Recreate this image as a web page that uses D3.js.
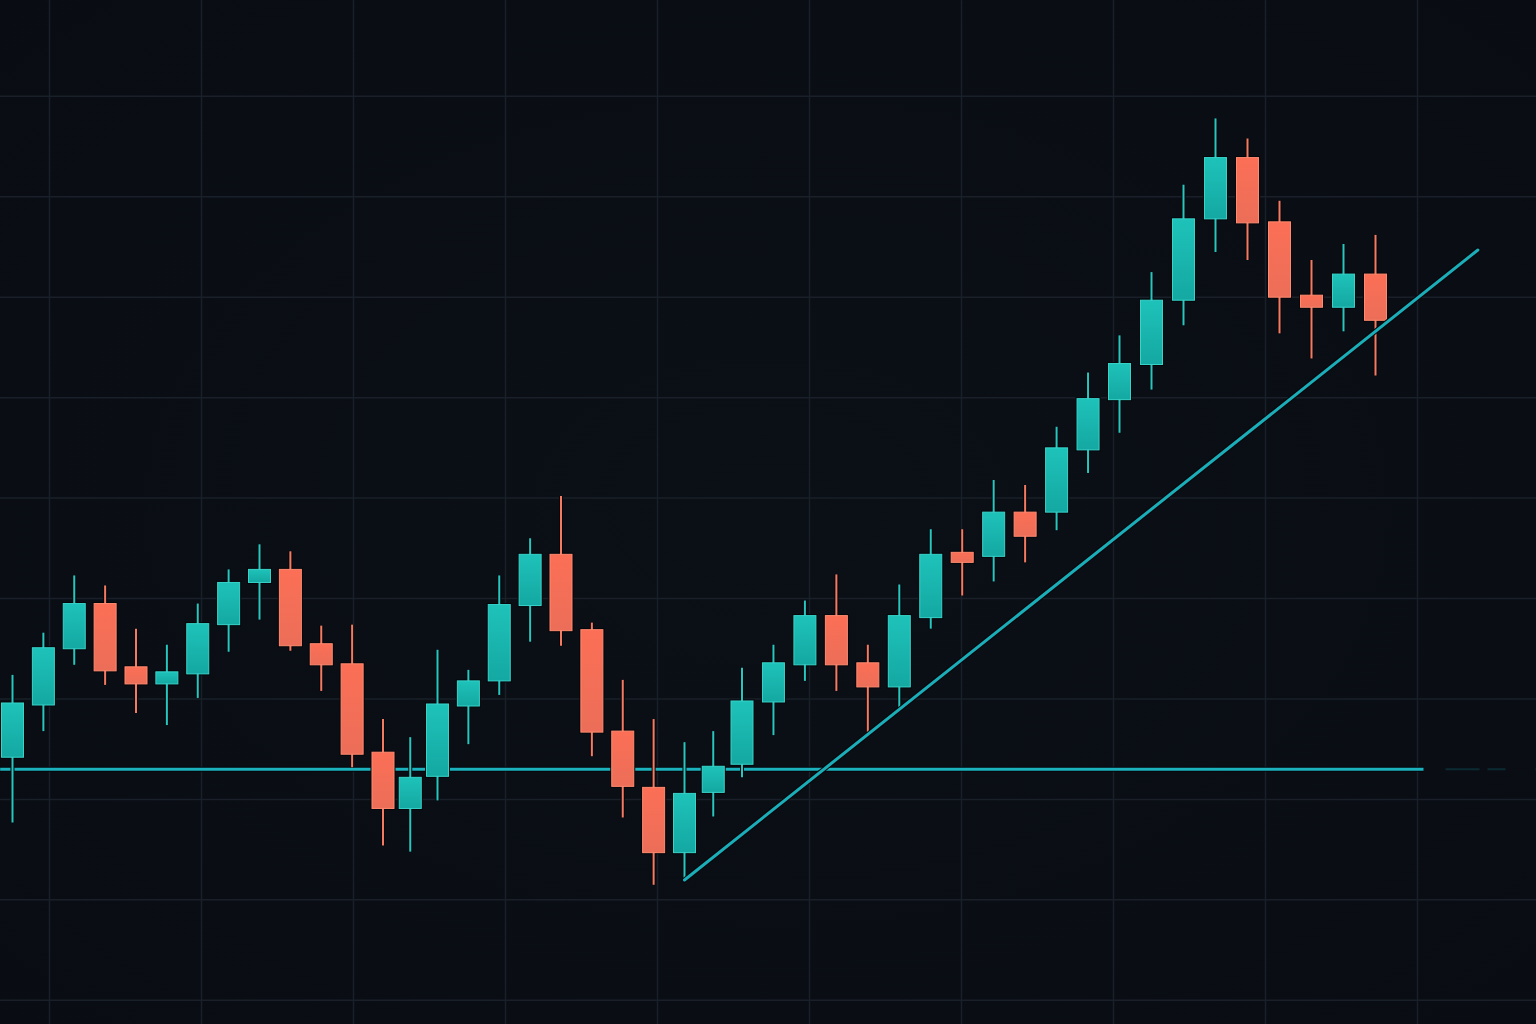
<!DOCTYPE html>
<html>
<head>
<meta charset="utf-8">
<script src="https://cdn.jsdelivr.net/npm/d3@7"></script>
<style>
  html, body { margin: 0; padding: 0; background: #0a0e15; }
  svg { display: block; }
</style>
</head>
<body>
<svg id="chart" width="1536" height="1024"></svg>
<script>
// ---- DATA ----
const candleIndex = d3.range(0, 45);
const opens  = [124.2,129.4,135.0,139.5,133.2,131.5,132.5,137.4,141.6,142.9,135.5,133.5,124.7,119.1,122.3,
                129.3,131.8,139.3,144.4,136.9,126.8,121.2,114.7,120.7,123.5,129.7,133.4,138.3,133.6,131.2,
                138.1,144.6,144.2,148.6,148.6,154.8,159.8,163.3,169.7,177.8,183.9,177.5,170.2,169.0,172.3];
const highs  = [132.4,136.6,142.3,141.3,137.0,135.4,139.5,142.9,145.4,144.7,137.3,137.4,128.0,126.2,134.9,
                132.9,142.3,146.0,150.2,137.6,131.9,128.0,125.7,126.8,133.1,135.4,139.8,142.4,135.4,141.4,
                146.9,146.9,151.8,151.3,157.1,162.5,166.2,172.5,181.2,187.8,185.8,179.6,173.7,175.3,176.2];
const lows   = [117.7,126.8,133.4,131.4,128.6,127.4,130.1,134.7,137.9,134.8,130.8,123.2,115.4,114.8,119.9,
                125.5,130.4,135.7,135.3,124.3,118.2,111.5,112.0,118.3,122.2,126.4,131.8,130.8,126.7,129.1,
                137.0,140.3,141.7,143.6,146.8,152.5,156.5,160.8,167.2,174.5,173.7,166.4,163.9,166.6,162.2];
const closes = [129.6,135.1,139.5,132.8,131.5,132.7,137.5,141.6,142.9,135.3,133.4,124.5,119.1,122.2,129.5,
                131.8,139.4,144.4,136.8,126.7,121.3,114.7,120.6,123.3,129.8,133.6,138.3,133.4,131.2,138.3,
                144.4,143.6,148.6,146.2,155.0,159.9,163.4,169.7,177.8,183.9,177.4,170.0,169.0,172.3,167.7];
const priceTicks = [90,100,110,120,130,140,150,160,170,180,190,200];
const timeTicks  = [0,1,2,3,4,5,6,7,8,9];
const supportLevel = 123.0;
const supportSpan  = [-0.4, 45.5];
const trendStart = { i: 22, p: 111.98 };
const trendEnd   = { i: 47.2, p: 174.7 };

// ---- SCALES ----
const W = 1536, H = 1024;
const x = d3.scaleLinear()
  .domain([0, 12, 14, 22, 24, 36, 44])
  .range([12.5, 383, 437.5, 684.5, 742, 1119.5, 1375.5]);
const y = d3.scaleLinear().domain([100, 190]).range([1000.3, 96.3]);
const gx = d3.scaleLinear().domain([0, 9]).range([49.5, 1417.5]);

const svg = d3.select("#chart");
const defs = svg.append("defs");

function grad(id, c1, c2) {
  const g = defs.append("linearGradient").attr("id", id)
    .attr("x1", 0).attr("y1", 0).attr("x2", 0).attr("y2", 1);
  g.append("stop").attr("offset", "0%").attr("stop-color", c1);
  g.append("stop").attr("offset", "100%").attr("stop-color", c2);
}
grad("gUp", "#1ec2b9", "#14a8a2");
grad("gDn", "#fb6f56", "#ec6e58");

const bg = defs.append("radialGradient").attr("id", "bgGrad")
  .attr("cx", "50%").attr("cy", "50%").attr("r", "75%");
bg.append("stop").attr("offset", "0%").attr("stop-color", "#0b0f16");
bg.append("stop").attr("offset", "100%").attr("stop-color", "#090c13");

svg.append("rect").attr("width", W).attr("height", H).attr("fill", "url(#bgGrad)");

// ---- GRID ----
const grid = svg.append("g").attr("stroke", "#1a2029").attr("stroke-width", 1.5);
grid.selectAll("line.h").data(priceTicks).join("line")
  .attr("class", "h")
  .attr("x1", 0).attr("x2", W)
  .attr("y1", d => y(d)).attr("y2", d => y(d));
grid.selectAll("line.v").data(timeTicks).join("line")
  .attr("class", "v")
  .attr("y1", 0).attr("y2", H)
  .attr("x1", d => gx(d)).attr("x2", d => gx(d));

// ---- SUPPORT LINE ----
const sup = svg.append("g");
sup.append("line")
  .attr("x1", x(supportSpan[0])).attr("x2", x(supportSpan[1]))
  .attr("y1", y(supportLevel)).attr("y2", y(supportLevel))
  .attr("stroke", "#05080c").attr("stroke-width", 5);
sup.append("line")
  .attr("x1", x(supportSpan[0])).attr("x2", x(supportSpan[1]))
  .attr("y1", y(supportLevel)).attr("y2", y(supportLevel))
  .attr("stroke", "#1bb1bd").attr("stroke-width", 3);
sup.append("line")
  .attr("x1", x(supportSpan[1]) + 22).attr("x2", W)
  .attr("y1", y(supportLevel)).attr("y2", y(supportLevel))
  .attr("stroke", "#1bb1bd").attr("stroke-opacity", 0.18)
  .attr("stroke-width", 2).attr("stroke-dasharray", "34 8 18 30");

// ---- CANDLES ----
const data = candleIndex.map(i => ({
  i, o: opens[i], h: highs[i], l: lows[i], c: closes[i], up: closes[i] >= opens[i]
}));
const bodyW = 22;
const cg = svg.append("g");
const c = cg.selectAll("g.candle").data(data).join("g").attr("class", "candle");

// dark outline behind
c.append("line")
  .attr("x1", d => x(d.i)).attr("x2", d => x(d.i))
  .attr("y1", d => y(d.h)).attr("y2", d => y(d.l))
  .attr("stroke", "#05070b").attr("stroke-width", 4);
c.append("rect")
  .attr("x", d => x(d.i) - bodyW / 2 - 1.5)
  .attr("width", bodyW + 3)
  .attr("y", d => y(Math.max(d.o, d.c)) - 1.5)
  .attr("height", d => Math.max(2, Math.abs(y(d.o) - y(d.c))) + 3)
  .attr("fill", "#05070b");
// wick
c.append("line")
  .attr("x1", d => x(d.i)).attr("x2", d => x(d.i))
  .attr("y1", d => y(d.h)).attr("y2", d => y(d.l))
  .attr("stroke", d => d.up ? "#27c6be" : "#f57a62").attr("stroke-width", 2);
// body
c.append("rect")
  .attr("x", d => x(d.i) - bodyW / 2)
  .attr("width", bodyW)
  .attr("y", d => y(Math.max(d.o, d.c)))
  .attr("height", d => Math.max(2, Math.abs(y(d.o) - y(d.c))))
  .attr("fill", d => d.up ? "url(#gUp)" : "url(#gDn)")
  .attr("stroke", d => d.up ? "#37d4ca" : "#ff8a70")
  .attr("stroke-width", 1);

// ---- TREND LINE ----
const tl = svg.append("g");
tl.append("line")
  .attr("x1", x(trendStart.i)).attr("y1", y(trendStart.p))
  .attr("x2", x(trendEnd.i)).attr("y2", y(trendEnd.p))
  .attr("stroke", "#05080c").attr("stroke-width", 5).attr("stroke-linecap", "round");
tl.append("line")
  .attr("x1", x(trendStart.i)).attr("y1", y(trendStart.p))
  .attr("x2", x(trendEnd.i)).attr("y2", y(trendEnd.p))
  .attr("stroke", "#1badb8").attr("stroke-width", 3).attr("stroke-linecap", "round");
</script>
</body>
</html>
